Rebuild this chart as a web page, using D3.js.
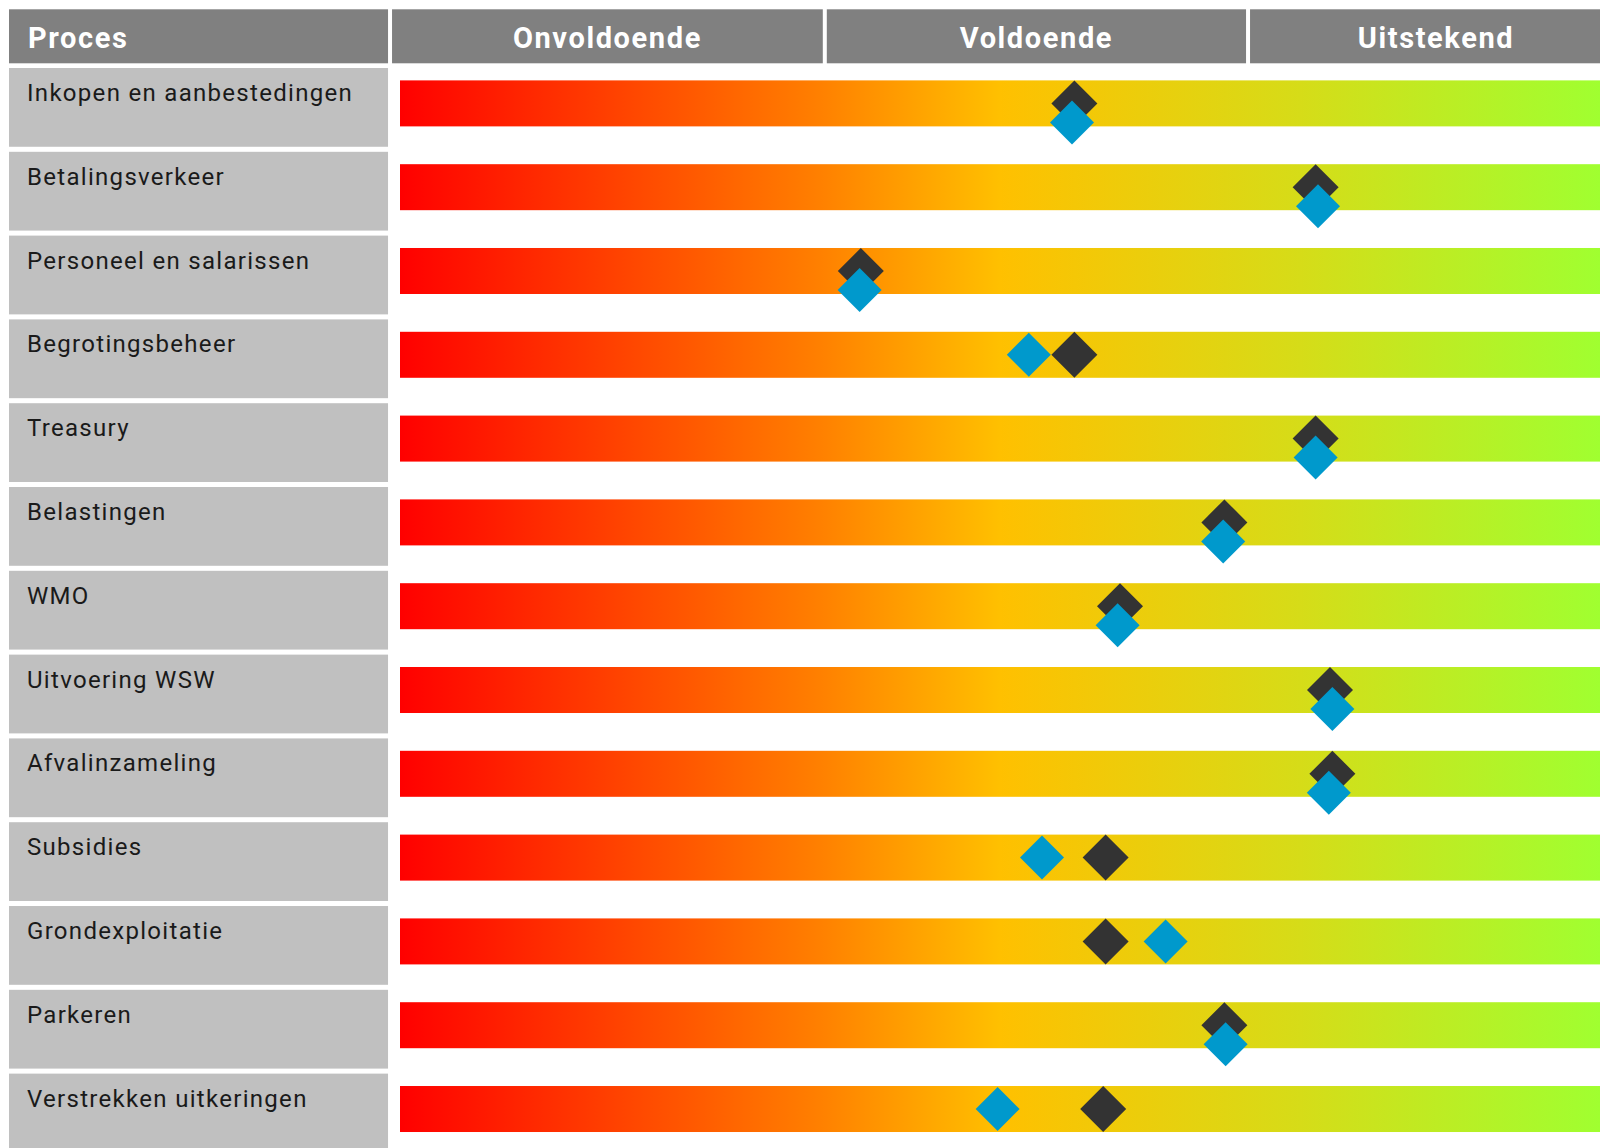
<!DOCTYPE html>
<html>
<head>
<meta charset="utf-8">
<script src="https://cdn.jsdelivr.net/npm/d3@7"></script>
<style>
  body { margin: 0; background: #fff; }
  svg { display: block; }
</style>
</head>
<body>
<div id="chart"></div>
<script>
// processes (rows)
var processes = [
  "Inkopen en aanbestedingen",
  "Betalingsverkeer",
  "Personeel en salarissen",
  "Begrotingsbeheer",
  "Treasury",
  "Belastingen",
  "WMO",
  "Uitvoering WSW",
  "Afvalinzameling",
  "Subsidies",
  "Grondexploitatie",
  "Parkeren",
  "Verstrekken uitkeringen"
];

// scores on a 0-100 scale
var blackScores = [56.2, 76.3, 38.4, 56.2, 76.3, 68.7, 60.0, 77.5, 77.7, 58.8, 58.8, 68.7, 58.6];
var blueScores  = [56.0, 76.5, 38.3, 52.4, 76.3, 68.6, 59.8, 77.7, 77.4, 53.5, 63.8, 68.8, 49.8];

// rating columns and their borders on the same scale
var levels = ["Onvoldoende", "Voldoende", "Uitstekend"];
var levelBounds = [-0.83, 35.4, 70.67, 102];

// gradient of the bars
var gradientOffsets = [0, 0.35, 0.5, 0.75, 1];
var gradientColors = ["#ff0000", "#ff8000", "#ffc000", "#d6dc18", "#a0ff30"];

var width = 1600, height = 1148;
var labelLeft = 9, textLeft = 27;
var headerTop = 9.3, headerHeight = 54;
var barHeight = 46, diamondBlack = 23, diamondBlue = 22, blueShift = 19;

var svg = d3.select("#chart")
  .append("svg")
    .attr("width", width)
    .attr("height", height);

var x = d3.scaleLinear()
  .domain([0, 100])
  .range([400, 1600]);

var y = d3.scaleBand()
  .domain(processes)
  .range([68, 1152.4])
  .paddingInner(0.06)
  .paddingOuter(0);

var labelRight = x(levelBounds[0]) - 2;

// gradient definition
var grad = svg.append("defs")
  .append("linearGradient")
    .attr("id", "barGradient")
    .attr("gradientUnits", "userSpaceOnUse")
    .attr("x1", x(0)).attr("x2", x(100))
    .attr("y1", 0).attr("y2", 0);
grad.selectAll("stop")
  .data(gradientOffsets)
  .enter()
  .append("stop")
    .attr("offset", function(d) { return d; })
    .attr("stop-color", function(d, i) { return gradientColors[i]; });

// header
svg.append("rect")
  .attr("x", labelLeft)
  .attr("y", headerTop)
  .attr("width", labelRight - labelLeft)
  .attr("height", headerHeight)
  .style("fill", "#808080");
svg.append("text")
  .attr("x", textLeft + 1)
  .attr("y", headerTop + 39)
  .style("font-family", "Roboto, 'DejaVu Sans', sans-serif")
  .style("font-weight", "bold")
  .style("font-size", "29px")
  .style("letter-spacing", "1.6px")
  .style("fill", "#fff")
  .text("Proces");

svg.selectAll(".level")
  .data(levels)
  .enter()
  .append("rect")
    .attr("class", "level")
    .attr("x", function(d, i) { return x(levelBounds[i]) + 2; })
    .attr("y", headerTop)
    .attr("width", function(d, i) { return x(levelBounds[i + 1]) - x(levelBounds[i]) - 4; })
    .attr("height", headerHeight)
    .style("fill", "#808080");

svg.selectAll(".levelText")
  .data(levels)
  .enter()
  .append("text")
    .attr("class", "levelText")
    .attr("x", function(d, i) { return (x(levelBounds[i]) + x(levelBounds[i + 1])) / 2; })
    .attr("y", headerTop + 39)
    .attr("text-anchor", "middle")
    .style("font-family", "Roboto, 'DejaVu Sans', sans-serif")
    .style("font-weight", "bold")
    .style("font-size", "29px")
    .style("letter-spacing", "1.6px")
    .style("fill", "#fff")
    .text(function(d) { return d; });

// rows
var rows = svg.selectAll(".row")
  .data(processes)
  .enter()
  .append("g")
    .attr("class", "row")
    .attr("transform", function(d) { return "translate(0," + y(d) + ")"; });

rows.append("rect")
  .attr("x", labelLeft)
  .attr("width", labelRight - labelLeft)
  .attr("height", y.bandwidth())
  .style("fill", "#c0c0c0");

rows.append("text")
  .attr("x", textLeft)
  .attr("y", 33)
  .style("font-family", "Roboto, 'DejaVu Sans', sans-serif")
  .style("font-size", "24px")
  .style("letter-spacing", "1.3px")
  .style("fill", "#1a1a1a")
  .text(function(d) { return d; });

var barMid = y.bandwidth() / 2 - 4;

rows.append("rect")
  .attr("x", x(0))
  .attr("y", barMid - barHeight / 2)
  .attr("width", x(100) - x(0))
  .attr("height", barHeight)
  .style("fill", "url(#barGradient)");

function diamond(h) {
  return "M0," + (-h) + "L" + h + ",0L0," + h + "L" + (-h) + ",0Z";
}

// black diamonds
rows.append("path")
  .attr("d", diamond(diamondBlack))
  .attr("transform", function(d, i) {
    return "translate(" + x(blackScores[i]) + "," + barMid + ")"; })
  .style("fill", "#333333");

// blue diamonds, pushed down when they would hide the black one
rows.append("path")
  .attr("d", diamond(diamondBlue))
  .attr("transform", function(d, i) {
    var overlap = Math.abs(x(blueScores[i]) - x(blackScores[i])) < diamondBlack + diamondBlue;
    return "translate(" + x(blueScores[i]) + "," + (barMid + (overlap ? blueShift : 0)) + ")"; })
  .style("fill", "#0099cc");
</script>
</body>
</html>
